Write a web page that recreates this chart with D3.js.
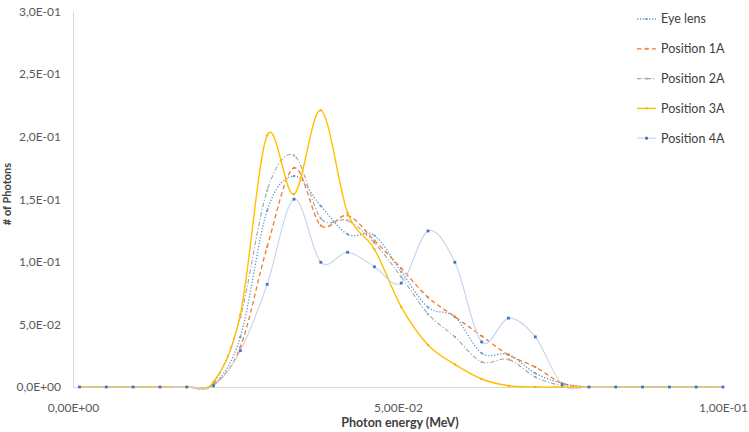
<!DOCTYPE html>
<html><head><meta charset="utf-8">
<script src="https://cdn.jsdelivr.net/npm/d3@7"></script>
<style>body{margin:0;background:#fff;} text{font-family:Lato,"Open Sans",sans-serif;}</style>
</head><body><svg id="c" width="749" height="432"></svg>
<script>
const energies = [0.001,0.005125,0.00925,0.013375,0.0175,0.021625,0.02575,0.029875,0.034,0.038125,0.04225,0.046375,0.0505,0.054625,0.05875,0.062875,0.067,0.071125,0.07525,0.079375,0.0835,0.087625,0.09175,0.095875,0.1];
const eyeLens   = [0,0,0,0,0,0.002,0.040,0.141,0.1685,0.1446,0.122,0.121,0.092,0.0636,0.056,0.027,0.026,0.011,0.003,0,0,0,0,0,0];
const pos1A     = [0,0,0,0,0,0.002,0.032,0.112,0.175,0.129,0.137,0.117,0.0948,0.0716,0.0562,0.0407,0.0256,0.016,0.003,0,0,0,0,0,0];
const pos2A     = [0,0,0,0,0,0.003,0.056,0.157,0.185,0.1347,0.133,0.115,0.088,0.0583,0.040,0.020,0.022,0.008,0.001,0,0,0,0,0,0];
const pos3A     = [0,0,0,0,0,0.004,0.058,0.201,0.154,0.221,0.139,0.110,0.064,0.0335,0.018,0.0064,0.001,0,0,0,0,0,0,0,0];
const pos4A     = [0,0,0,0,0,0.001,0.029,0.082,0.150,0.0996,0.1076,0.096,0.083,0.1246,0.0996,0.036,0.055,0.040,0.002,0,0,0,0,0,0];
const seriesNames = ["Eye lens","Position 1A","Position 2A","Position 3A","Position 4A"];
const xTicks = [0,0.05,0.1];
const xTickLabels = ["0,00E+00","5,00E-02","1,00E-01"];
const yTicks = [0,0.05,0.1,0.15,0.2,0.25,0.3];
const yTickLabels = ["0,0E+00","5,0E-02","1,0E-01","1,5E-01","2,0E-01","2,5E-01","3,0E-01"];

const seriesValues = [eyeLens,pos1A,pos2A,pos3A,pos4A];
const styles = [
  {stroke:"#5B9BD5", dash:"1.3,1.7", w:1.3, marker:"#5B9BD5", mr:1.0},
  {stroke:"#ED7D31", dash:"4.5,3", w:1.3, marker:"#ED7D31", mr:1.0},
  {stroke:"#A5A5A5", dash:"4.5,2,1.2,2", w:1.1, marker:"#A5A5A5", mr:1.0},
  {stroke:"#FFC000", dash:null, w:1.4, marker:"#F0B000", mr:1.0},
  {stroke:"#C5D3EC", dash:null, w:1.1, marker:"#4472C4", mr:1.4}
];

const svg = d3.select("#c");
const x = d3.scaleLinear().domain([0,0.1]).range([73,723]);
const y = d3.scaleLinear().domain([0,0.3]).range([387,11.4]);

// axes
const xAxis = svg.append("g").attr("transform","translate(0,387)")
  .call(d3.axisBottom(x).tickValues(xTicks).tickSize(0).tickFormat((d,i)=>xTickLabels[i]));
xAxis.select(".domain").attr("stroke","#D9D9D9").attr("stroke-width",1.2);
xAxis.selectAll("text").attr("fill","#595959").attr("font-size","12px").attr("y",0).attr("dy","25px")
  .style("font-family","Lato,'Open Sans',sans-serif");
const yAxis = svg.append("g").attr("transform","translate(73,0)")
  .call(d3.axisLeft(y).tickValues(yTicks).tickSize(0).tickFormat((d,i)=>yTickLabels[i]));
yAxis.select(".domain").attr("stroke","#D9D9D9").attr("stroke-width",1);
yAxis.selectAll("text").attr("fill","#595959").attr("font-size","12px").attr("x",-12)
  .style("font-family","Lato,'Open Sans',sans-serif");

svg.append("text").attr("x",400).attr("y",427).attr("text-anchor","middle")
  .attr("font-size","12.5px").attr("font-weight","bold").attr("fill","#404040").text("Photon energy (MeV)");
svg.append("text").attr("transform","translate(11,194) rotate(-90)").attr("text-anchor","middle")
  .attr("font-size","11px").attr("font-weight","bold").attr("fill","#404040").text("# of Photons");

const line = d3.line().x(d=>x(d[0])).y(d=>y(d[1])).curve(d3.curveCardinal.tension(0));

seriesValues.forEach((vals,si)=>{
  const st = styles[si];
  const pts = energies.map((e,i)=>[e,vals[i]]);
  const p = svg.append("path").datum(pts).attr("d",line).attr("fill","none")
    .attr("stroke",st.stroke).attr("stroke-width",st.w);
  if(st.dash) p.attr("stroke-dasharray",st.dash);
  svg.append("g").selectAll("rect").data(pts).join("rect")
    .attr("x",d=>x(d[0])-st.mr).attr("y",d=>y(d[1])-st.mr)
    .attr("width",st.mr*2).attr("height",st.mr*2).attr("fill",st.marker);
});

// legend
const lg = svg.append("g");
seriesNames.forEach((name,si)=>{
  const st = styles[si];
  const ly = 19 + si*29.8;
  const l = lg.append("line").attr("x1",637).attr("x2",656).attr("y1",ly).attr("y2",ly)
    .attr("stroke",st.stroke).attr("stroke-width",st.w);
  if(st.dash) l.attr("stroke-dasharray",st.dash);
  lg.append("rect").attr("x",646.5-st.mr).attr("y",ly-st.mr).attr("width",st.mr*2).attr("height",st.mr*2).attr("fill",st.marker);
  lg.append("text").attr("x",661).attr("y",ly).attr("dy","0.35em").attr("font-size","12.5px")
    .attr("fill","#404040").text(name);
});
</script></body></html>
